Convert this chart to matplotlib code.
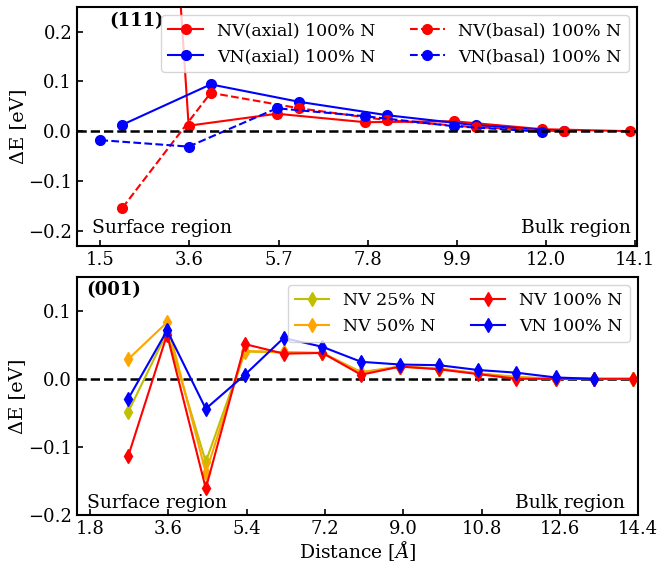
import matplotlib
matplotlib.use("Agg")
import matplotlib.pyplot as plt
import numpy as np

plt.rcParams['font.family'] = 'DejaVu Serif'
plt.rcParams['mathtext.fontset'] = 'dejavuserif'

# (111) slab: distances from surface [A]
x111_a = [1.5, 3.58, 5.66, 7.74, 9.82, 11.9, 13.98]
x111_b = [2.02, 4.1, 6.18, 8.26, 10.34, 12.42]
nv_axial = [2.7, 0.011, 0.035, 0.018, 0.020, 0.004, 0.0]
vn_axial = [0.013, 0.094, 0.059, 0.032, 0.012, 0.0]
nv_basal = [-0.154, 0.077, 0.046, 0.022, 0.008, 0.0]
vn_basal = [-0.018, -0.031, 0.046, 0.030, 0.010, -0.001]
ticks111 = [1.5, 3.6, 5.7, 7.8, 9.9, 12.0, 14.1]

# (001) slab
x001 = [2.68, 3.57, 4.46, 5.36, 6.25, 7.14, 8.03, 8.93, 9.82, 10.71, 11.6, 12.5, 13.39, 14.28]
nv25 = [-0.048, 0.068, -0.122, 0.040, 0.039, 0.038, 0.010, 0.018, 0.015, 0.008, 0.003, 0.0, 0.0, 0.0]
nv50 = [0.029, 0.083, -0.138, 0.041, 0.039, 0.038, 0.009, 0.018, 0.015, 0.008, 0.002, 0.0, 0.0, 0.0]
nv100 = [-0.113, 0.065, -0.161, 0.051, 0.037, 0.038, 0.006, 0.018, 0.014, 0.007, 0.0, 0.0, 0.0, 0.0]
vn100 = [-0.029, 0.071, -0.044, 0.006, 0.060, 0.047, 0.025, 0.021, 0.020, 0.013, 0.009, 0.002, 0.0]
ticks001 = [1.8, 3.6, 5.4, 7.2, 9.0, 10.8, 12.6, 14.4]

fig = plt.figure(figsize=(6.57, 5.64), dpi=100)
ax1 = fig.add_axes([0.1172, 0.5644, 0.8529, 0.4237])
ax2 = fig.add_axes([0.1172, 0.0869, 0.8543, 0.4225])

fs = 12.5     # legend
tfs = 13.5    # region labels
# top panel
ax1.plot(x111_a, nv_axial, 'o-', color='red', ms=7, lw=1.5, label='NV(axial) 100% N')
ax1.plot(x111_b, vn_axial, 'o-', color='blue', ms=7, lw=1.5, label='VN(axial) 100% N')
ax1.plot(x111_b, nv_basal, 'o--', color='red', ms=7, lw=1.5, label='NV(basal) 100% N')
ax1.plot(x111_a[:len(vn_basal)], vn_basal, 'o--', color='blue', ms=7, lw=1.5,
         label='VN(basal) 100% N')
ax1.axhline(0, color='k', ls='--', lw=1.8, zorder=5)
ax1.set_xlim(0.95, 14.15)
ax1.set_ylim(-0.23, 0.25)
ax1.set_xticks(ticks111)
ax1.set_xticklabels([f"{t:.1f}" for t in ticks111])
ax1.set_yticks([-0.2, -0.1, 0.0, 0.1, 0.2])
ax1.set_ylabel('ΔE [eV]', fontsize=14)
ax1.text(0.057, 0.94, '(111)', transform=ax1.transAxes, fontsize=13,
         fontweight='bold', va='center')
ax1.text(0.026, 0.074, 'Surface region', transform=ax1.transAxes, fontsize=tfs, va='center')
ax1.text(0.988, 0.074, 'Bulk region', transform=ax1.transAxes, fontsize=tfs,
         va='center', ha='right')
ax1.legend(ncol=2, fontsize=fs, loc='upper right', handlelength=2.0)

# bottom panel
ax2.plot(x001, nv25, 'd-', color='#bfbf00', ms=7, lw=1.5, label='NV 25% N')
ax2.plot(x001, nv50, 'd-', color='orange', ms=7, lw=1.5, label='NV 50% N')
ax2.plot(x001, nv100, 'd-', color='red', ms=7, lw=1.5, label='NV 100% N')
ax2.plot(x001[:len(vn100)], vn100, 'd-', color='blue', ms=7, lw=1.5, label='VN 100% N')
ax2.axhline(0, color='k', ls='--', lw=1.8, zorder=1)
ax2.set_xlim(1.5, 14.4)
ax2.set_ylim(-0.2, 0.15)
ax2.set_xticks(ticks001)
ax2.set_xticklabels([f"{t:.1f}" for t in ticks001])
ax2.set_yticks([-0.2, -0.1, 0.0, 0.1])
ax2.set_ylabel('ΔE [eV]', fontsize=14)
ax2.set_xlabel(r'Distance [$\AA$]', fontsize=13.5, labelpad=1)
ax2.text(0.016, 0.944, '(001)', transform=ax2.transAxes, fontsize=13,
         fontweight='bold', va='center')
ax2.text(0.017, 0.05, 'Surface region', transform=ax2.transAxes, fontsize=tfs, va='center')
ax2.text(0.976, 0.05, 'Bulk region', transform=ax2.transAxes, fontsize=tfs,
         va='center', ha='right')
ax2.legend(ncol=2, fontsize=fs, loc='upper right', handlelength=2.0)

for ax in (ax1, ax2):
    ax.tick_params(direction='in', labelsize=13, width=1.2, length=4)
    for sp in ax.spines.values():
        sp.set_linewidth(1.5)
    ax.yaxis.set_label_coords(-0.09, 0.5)

fig.savefig('out.png', dpi=100)
